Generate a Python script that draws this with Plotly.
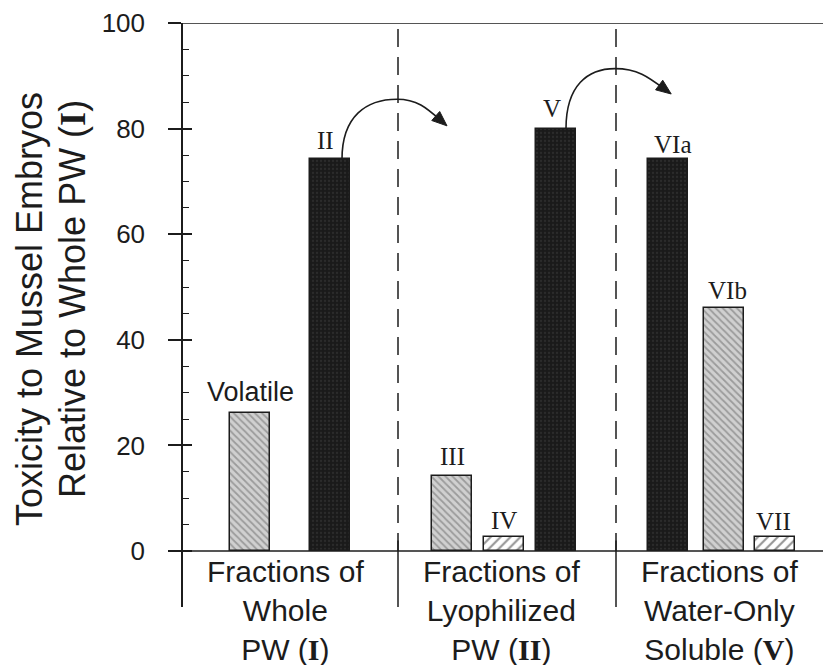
import plotly.graph_objects as go

# ---- data -------------------------------------------------------------
labels = ["Volatile", "II", "III", "IV", "V", "VIa", "VIb", "VII"]
values = [26.2, 74.2, 14.3, 2.6, 80.0, 74.2, 46.0, 2.6]
kinds = ["gray", "dark", "gray", "hatch", "dark", "dark", "gray", "hatch"]
group_labels = [
    "Fractions of<br>Whole<br>PW (<span style='font-family:Liberation Serif'><b>I</b></span>)",
    "Fractions of<br>Lyophilized<br>PW (<span style='font-family:Liberation Serif'><b>II</b></span>)",
    "Fractions of<br>Water-Only<br>Soluble (<span style='font-family:Liberation Serif'><b>V</b></span>)",
]
y_ticks = [0, 20, 40, 60, 80, 100]

# ---- layout geometry (x axis in arbitrary units, 40 px per unit) -----
bar_pos = [1.675, 3.675, 6.725, 8.025, 9.325, 12.125, 13.525, 14.8]
group_pos = [2.55, 7.95, 13.4]
divider_pos = [5.375, 10.825]
BAR_W = 1.02
X_RANGE = [0, 16]
Y_RANGE = [-10.6, 100]

W, H = 823, 665
ML, MR, MT, MB = 183, 0, 23, 58
INK = "#1c1c1c"
SANS = "Liberation Sans, Arial, sans-serif"
SERIF = "Liberation Serif, Times New Roman, serif"

plot_w = W - ML - MR
plot_h = H - MT - MB


def px_to_x(px):
    return X_RANGE[0] + (px - ML) / plot_w * (X_RANGE[1] - X_RANGE[0])


def px_to_y(py):
    return Y_RANGE[1] - (py - MT) / plot_h * (Y_RANGE[1] - Y_RANGE[0])


def x_to_px(x):
    return ML + (x - X_RANGE[0]) / (X_RANGE[1] - X_RANGE[0]) * plot_w


def y_to_px(y):
    return MT + (Y_RANGE[1] - y) / (Y_RANGE[1] - Y_RANGE[0]) * plot_h


styles = {
    "gray": dict(color="#cfcfcf",
                 pattern=dict(shape="\\", fgcolor="#666666", bgcolor="#d0d0d0",
                              size=5, solidity=0.35)),
    "dark": dict(color="#1d1d1d",
                 pattern=dict(shape=".", fgcolor="#3c3c3c", bgcolor="#1a1a1a",
                              size=4, solidity=0.25)),
    "hatch": dict(color="white",
                  pattern=dict(shape="/", fgcolor="#2a2a2a", bgcolor="white",
                               size=7, solidity=0.3)),
}

fig = go.Figure()
for kind in ["gray", "dark", "hatch"]:
    idx = [i for i, k in enumerate(kinds) if k == kind]
    fig.add_trace(go.Bar(
        x=[bar_pos[i] for i in idx],
        y=[values[i] for i in idx],
        width=BAR_W,
        marker=dict(color=styles[kind]["color"],
                    pattern=styles[kind]["pattern"],
                    line=dict(color=INK, width=1.5)),
        hoverinfo="skip",
        showlegend=False,
    ))

# invisible trace so the overlay axis (inside half of major ticks) is drawn
fig.add_trace(go.Scatter(x=[None], y=[None], yaxis="y2", showlegend=False,
                         hoverinfo="skip"))

shapes = []
# top frame line at 100 and the baseline at 0
for yv in (100, 0):
    shapes.append(dict(type="line", xref="paper", yref="y", x0=0, x1=1,
                       y0=yv, y1=yv, line=dict(color=INK, width=1.5)))
# group dividers: dashed above the baseline, solid below it
for xv in divider_pos:
    shapes.append(dict(type="line", xref="x", yref="y", x0=xv, x1=xv,
                       y0=0, y1=100, line=dict(color=INK, width=1.5, dash="18px,10px")))
    shapes.append(dict(type="line", xref="x", yref="y", x0=xv, x1=xv,
                       y0=Y_RANGE[0], y1=2, line=dict(color=INK, width=1.5)))


def curved_arrow(start_px, peak_px, end_px):
    """Curved arrow from a bar top, over a divider, down into the next group."""
    sx, sy = start_px
    kx, ky = peak_px
    ex, ey = end_px
    c1 = (sx, ky + 0.55 * (sy - ky) * 0.5)
    c2 = (sx + 0.45 * (kx - sx), ky)
    c3 = (kx + 0.45 * (ex - kx), ky)
    c4 = (ex - 0.35 * (ex - kx), ey - 0.6 * (ey - ky))
    pts = [(sx, sy), c1, c2, (kx, ky), c3, c4, (ex, ey)]
    d = [(px_to_x(a), px_to_y(b)) for a, b in pts]
    path = ("M {0[0]},{0[1]} C {1[0]},{1[1]} {2[0]},{2[1]} {3[0]},{3[1]} "
            "C {4[0]},{4[1]} {5[0]},{5[1]} {6[0]},{6[1]}").format(*d)
    shapes.append(dict(type="path", xref="x", yref="y", path=path,
                       line=dict(color=INK, width=1.6)))
    # arrowhead along the end tangent
    tx, ty = ex - c4[0], ey - c4[1]
    n = (tx ** 2 + ty ** 2) ** 0.5
    ux, uy = tx / n, ty / n
    L, Wd = 15, 6
    tip = (ex + ux * 4, ey + uy * 4)
    base = (tip[0] - ux * L, tip[1] - uy * L)
    p1 = (base[0] - uy * Wd, base[1] + ux * Wd)
    p2 = (base[0] + uy * Wd, base[1] - ux * Wd)
    tri = [(px_to_x(a), px_to_y(b)) for a, b in (tip, p1, p2)]
    shapes.append(dict(type="path", xref="x", yref="y",
                       path="M {0[0]},{0[1]} L {1[0]},{1[1]} L {2[0]},{2[1]} Z".format(*tri),
                       fillcolor=INK, line=dict(color=INK, width=1)))


# II -> lyophilized group, V -> water-only group
iII, iV = labels.index("II"), labels.index("V")
curved_arrow((x_to_px(bar_pos[iII]) + 12, y_to_px(values[iII])),
             (x_to_px(divider_pos[0]) - 1, y_to_px(values[iII]) - 60),
             (x_to_px(bar_pos[iII + 1]) - 8, y_to_px(values[iII]) - 36))
curved_arrow((x_to_px(bar_pos[iV]) + 10, y_to_px(values[iV])),
             (x_to_px(divider_pos[1]) - 1, y_to_px(values[iV]) - 60),
             (x_to_px(bar_pos[iV + 1]) + 0, y_to_px(values[iV]) - 37))

annotations = []
# labels over the bars
label_shift = {"Volatile": (0, 21), "II": (-5, 19), "III": (0, 19), "IV": (0, 17),
               "V": (-4, 20), "VIa": (4, 15), "VIb": (3, 18), "VII": (-2, 16)}
for lab, xv, yv in zip(labels, bar_pos, values):
    dx, dy = label_shift[lab]
    fam = SANS if lab == "Volatile" else SERIF
    size = 27 if lab == "Volatile" else 25
    annotations.append(dict(x=xv, y=yv, xref="x", yref="y", text=lab,
                            showarrow=False, xanchor="center", yanchor="middle",
                            xshift=dx, yshift=dy,
                            font=dict(family=fam, size=size, color=INK)))
# group captions under the baseline
for txt, xv in zip(group_labels, group_pos):
    annotations.append(dict(x=xv, y=0, xref="x", yref="y", text=txt,
                            showarrow=False, xanchor="center", yanchor="top",
                            yshift=-2, align="center",
                            font=dict(family=SANS, size=30, color=INK)))
# y axis title, two rotated lines
annotations.append(dict(x=(29 - ML) / plot_w, y=(H - MB - 309) / plot_h,
                        xref="paper", yref="paper", text="Toxicity to Mussel Embryos",
                        textangle=-90, showarrow=False, xanchor="center", yanchor="middle",
                        font=dict(family=SANS, size=36, color=INK)))
annotations.append(dict(x=(72 - ML) / plot_w, y=(H - MB - 299) / plot_h,
                        xref="paper", yref="paper",
                        text="Relative to Whole PW (<span style='font-family:Liberation Serif'><b>I</b></span>)",
                        textangle=-90, showarrow=False, xanchor="center", yanchor="middle",
                        font=dict(family=SANS, size=36, color=INK)))

minor_vals = [v for v in range(5, 100, 5) if v % 20]

fig.update_layout(
    width=W, height=H,
    margin=dict(l=ML, r=MR, t=MT, b=MB),
    paper_bgcolor="white", plot_bgcolor="white",
    bargap=0, barmode="overlay",
    xaxis=dict(range=X_RANGE, visible=False, fixedrange=True),
    yaxis=dict(range=Y_RANGE, tickmode="array", tickvals=y_ticks,
               ticks="outside", ticklen=13, tickwidth=1.5, tickcolor=INK,
               ticklabelstandoff=18,
               showline=True, linecolor=INK, linewidth=1.5,
               showgrid=False, zeroline=False,
               tickfont=dict(family=SANS, size=26, color=INK),
               minor=dict(tickvals=minor_vals, ticks="inside", ticklen=6,
                          tickwidth=1.2, tickcolor=INK, showgrid=False)),
    yaxis2=dict(range=Y_RANGE, overlaying="y", side="left", anchor="x",
                tickmode="array", tickvals=y_ticks, ticks="inside", ticklen=9,
                tickwidth=1.5, tickcolor=INK, showticklabels=False,
                showline=False, showgrid=False, zeroline=False),
    shapes=shapes,
    annotations=annotations,
)

fig.write_html("out.html")
